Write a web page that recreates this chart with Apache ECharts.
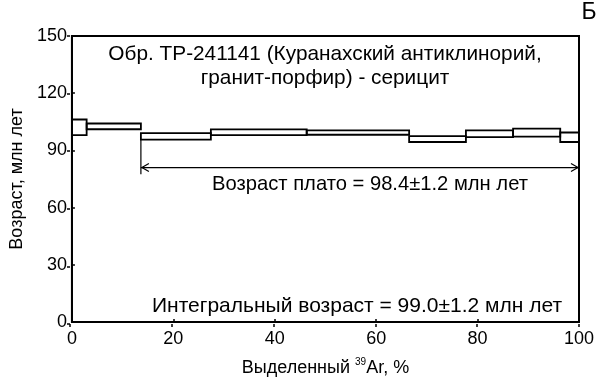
<!DOCTYPE html>
<html>
<head>
<meta charset="utf-8">
<script src="https://cdn.jsdelivr.net/npm/echarts@6/dist/echarts.min.js"></script>
<style>
  html, body { margin: 0; padding: 0; background: #fff; }
  #chart { width: 604px; height: 382px; }
</style>
</head>
<body>
<div id="chart"></div>
<script>
// 40Ar/39Ar step-heating spectrum: cumulative 39Ar release (%) and age range (Ma) of each step
const stepStart = [0, 2.9, 13.6, 27.4, 46.3, 66.5, 77.7, 87.0, 96.3];
const stepEnd   = [2.9, 13.6, 27.4, 46.3, 66.5, 77.7, 87.0, 96.3, 100];
const ageLow    = [98.0, 101.1, 95.6, 98.0, 98.2, 94.4, 97.0, 97.2, 94.4];
const ageHigh   = [106.2, 104.1, 99.1, 101.0, 100.5, 97.5, 100.5, 101.4, 99.4];

// plateau bracket: from / to (% 39Ar), level of the arrow, bottom of the start marker (Ma)
const plateauFrom = 13.6;
const plateauTo = 100;
const plateauLevel = 81;
const plateauMarkTop = 95.6;
const plateauMarkBottom = 77.5;

const xTicks = [0, 20, 40, 60, 80, 100];
const yTicks = [0, 30, 60, 90, 120, 150];

const sampleTitle = ['Обр. ТР-241141 (Куранахский антиклинорий,', 'гранит-порфир) - серицит'];
const plateauText = 'Возраст плато = 98.4±1.2 млн лет';
const integralText = 'Интегральный возраст = 99.0±1.2 млн лет';
const panelLetter = 'Б';

const FONT = '"Liberation Sans", Arial, sans-serif';
const AXIS_SIZE = 18;

const steps = stepStart.map((s, i) => [s, stepEnd[i], ageLow[i], ageHigh[i]]);

const chart = echarts.init(document.getElementById('chart'), null, { renderer: 'canvas' });

const gridBox = { left: 70, right: 25, top: 36, bottom: 58 };

const axisCommon = {
  axisLine: { show: true, lineStyle: { color: '#000', width: 2 } },
  splitLine: { show: false }
};

function label(text, x, y, size, align) {
  return {
    type: 'text', x: x, y: y,
    style: { text: text, fill: '#000', font: size + 'px ' + FONT, align: align || 'center', verticalAlign: 'middle' }
  };
}

chart.setOption({
  animation: false,
  backgroundColor: '#fff',
  grid: [
    Object.assign({ show: true, borderColor: '#000', borderWidth: 2, backgroundColor: 'transparent' }, gridBox),
    Object.assign({ show: false }, gridBox)
  ],
  xAxis: [
    Object.assign({
      type: 'value', gridIndex: 0, min: xTicks[0], max: xTicks[xTicks.length - 1],
      interval: xTicks[1] - xTicks[0],
      axisTick: { show: true, inside: true, length: 3, lineStyle: { color: '#000', width: 1.5 } },
      axisLabel: { color: '#000', fontSize: AXIS_SIZE, fontFamily: FONT, margin: 8 },
      name: '{n|Выделенный }{sup|39}{n|Ar, %}',
      nameLocation: 'middle', nameGap: 35,
      nameTextStyle: {
        color: '#000', fontSize: AXIS_SIZE, fontFamily: FONT,
        rich: {
          n: { fontSize: AXIS_SIZE, fontFamily: FONT, color: '#000', lineHeight: 20, verticalAlign: 'bottom' },
          sup: { fontSize: 10, fontFamily: FONT, color: '#000', lineHeight: 10, verticalAlign: 'top' }
        }
      }
    }, axisCommon),
    {
      type: 'value', gridIndex: 1, min: xTicks[0], max: xTicks[xTicks.length - 1],
      interval: xTicks[1] - xTicks[0],
      axisLine: { show: false }, splitLine: { show: false }, axisLabel: { show: false },
      axisTick: { show: true, inside: false, length: 3, lineStyle: { color: '#000', width: 1.5 } }
    }
  ],
  yAxis: [
    Object.assign({
      type: 'value', gridIndex: 0, min: yTicks[0], max: yTicks[yTicks.length - 1],
      interval: yTicks[1] - yTicks[0],
      axisTick: { show: true, inside: true, length: 3, lineStyle: { color: '#000', width: 1.5 } },
      axisLabel: { color: '#000', fontSize: AXIS_SIZE, fontFamily: FONT, margin: 5 },
      name: 'Возраст, млн лет',
      nameLocation: 'middle', nameGap: 37, nameRotate: 90,
      nameTextStyle: { color: '#000', fontSize: AXIS_SIZE, fontFamily: FONT }
    }, axisCommon),
    {
      type: 'value', gridIndex: 1, min: yTicks[0], max: yTicks[yTicks.length - 1],
      interval: yTicks[1] - yTicks[0],
      axisLine: { show: false }, splitLine: { show: false }, axisLabel: { show: false },
      axisTick: { show: true, inside: false, length: 3, lineStyle: { color: '#000', width: 1.5 } }
    }
  ],
  series: [
    {
      // age-spectrum boxes, one per heating step
      type: 'custom',
      xAxisIndex: 0, yAxisIndex: 0,
      data: steps,
      encode: { x: [0, 1], y: [2, 3] },
      renderItem: function (params, api) {
        const p0 = api.coord([api.value(0), api.value(3)]);
        const p1 = api.coord([api.value(1), api.value(2)]);
        return {
          type: 'rect',
          shape: { x: p0[0], y: p0[1], width: p1[0] - p0[0], height: p1[1] - p0[1] },
          style: { fill: 'none', stroke: '#000', lineWidth: 1.8 }
        };
      },
      z: 3
    },
    {
      // plateau bracket with arrowheads
      type: 'custom',
      xAxisIndex: 0, yAxisIndex: 0,
      data: [[plateauFrom, plateauTo, plateauLevel, plateauMarkTop, plateauMarkBottom]],
      encode: { x: [0, 1], y: [2] },
      renderItem: function (params, api) {
        const a = api.coord([api.value(0), api.value(2)]);
        const b = api.coord([api.value(1), api.value(2)]);
        const mt = api.coord([api.value(0), api.value(3)]);
        const mb = api.coord([api.value(0), api.value(4)]);
        const ah = 8, aw = 4;
        const st = { stroke: '#000', lineWidth: 1.2, fill: 'none' };
        return {
          type: 'group',
          children: [
            { type: 'line', shape: { x1: a[0], y1: a[1], x2: b[0], y2: b[1] }, style: st },
            { type: 'line', shape: { x1: mt[0], y1: mt[1], x2: mb[0], y2: mb[1] }, style: st },
            { type: 'polyline', shape: { points: [[a[0] + ah, a[1] - aw], [a[0] + 1, a[1]], [a[0] + ah, a[1] + aw]] }, style: st },
            { type: 'polyline', shape: { points: [[b[0] - ah, b[1] - aw], [b[0] - 1, b[1]], [b[0] - ah, b[1] + aw]] }, style: st }
          ]
        };
      },
      z: 3
    }
  ],
  graphic: [
    label(sampleTitle[0], 325, 54, 20.8),
    label(sampleTitle[1], 325, 78, 20.8),
    label(plateauText, 370, 184, 20.2),
    label(integralText, 357, 306, 21),
    label(panelLetter, 589, 13, 23)
  ]
});
</script>
</body>
</html>
